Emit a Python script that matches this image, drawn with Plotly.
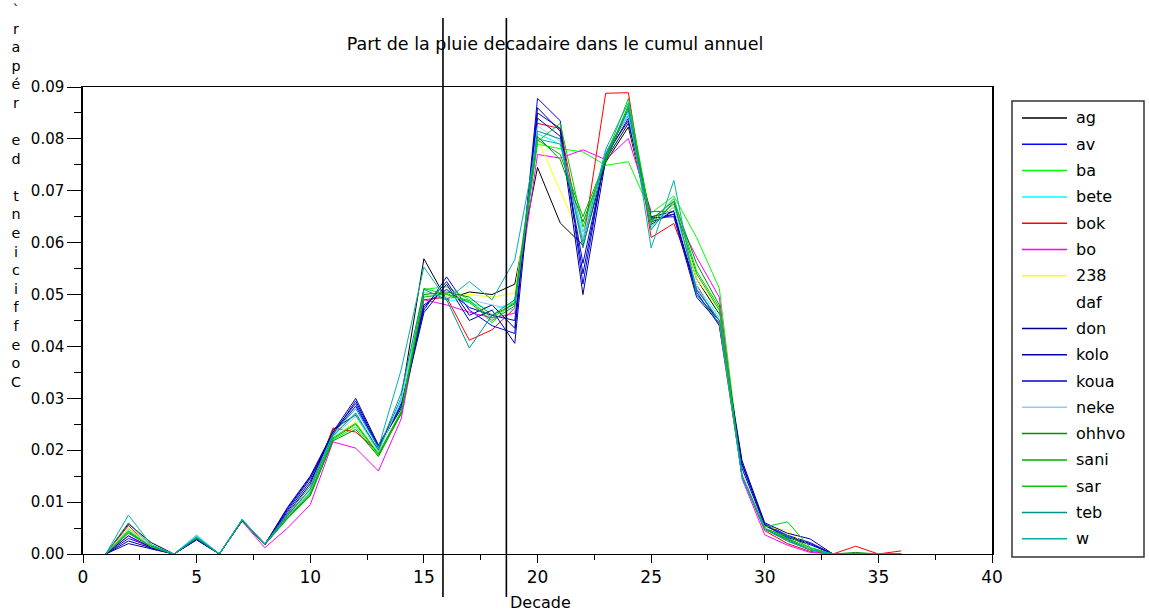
import plotly.graph_objects as go

# ---------------- data ----------------
decades = list(range(1, 37))

station_names = ["ag", "av", "ba", "bete", "bok", "bo", "238", "daf", "don",
                 "kolo", "koua", "neke", "ohhvo", "sani", "sar", "teb", "w"]

station_colors = ["#000000", "#0000ff", "#00ff00", "#00ffff", "#ff0000", "#ff00ff",
                  "#ffff00", "#ffffff", "#000090", "#0000b0", "#0000d0", "#87ceff",
                  "#009000", "#00b000", "#00d000", "#009090", "#00b0b0"]

ag = [0, .0058, .0022, 0, .0030, 0, .0066, .0020, .0078, .0135, .0240, .0268, .0200, .0300, .0569, .0490, .0505, .0500,
      .0520, .0745, .0638, .0595, .0755, .0823, .0635, .0662, .0530, .0462, .0150, .0050, .0030, .0010, 0, 0, 0, 0]
av = [0, .0030, .0014, 0, .0028, 0, .0064, .0018, .0085, .0145, .0235, .0290, .0205, .0290, .0470, .0534, .0470, .0440,
      .0425, .0878, .0835, .0520, .0775, .0845, .0645, .0655, .0505, .0440, .0172, .0058, .0036, .0022, 0, 0, 0, 0]
ba = [0, .0045, .0014, 0, .0032, 0, .0065, .0018, .0070, .0115, .0220, .0245, .0190, .0275, .0510, .0515, .0490, .0445,
      .0490, .0790, .0781, .0775, .0749, .0756, .0657, .0690, .0610, .0512, .0150, .0050, .0030, .0010, 0, 0, 0, 0]
bete = [0, .0050, .0015, 0, .0036, 0, .0066, .0018, .0072, .0120, .0228, .0270, .0195, .0300, .0500, .0490, .0485, .0470,
        .0485, .0810, .0790, .0620, .0770, .0850, .0630, .0670, .0520, .0455, .0150, .0048, .0025, .0008, 0, 0, 0, 0]
bok = [0, .0055, .0012, 0, .0030, 0, .0064, .0018, .0075, .0125, .0243, .0235, .0197, .0270, .0490, .0495, .0412, .0432,
       .0474, .0830, .0820, .0600, .0888, .0889, .0610, .0637, .0520, .0440, .0150, .0045, .0020, .0005, 0, .0015, 0, .0006]
bo = [0, .0035, .0010, 0, .0028, 0, .0063, .0012, .0050, .0095, .0216, .0204, .0160, .0260, .0490, .0480, .0466, .0455,
      .0464, .0770, .0763, .0779, .0760, .0801, .0660, .0660, .0572, .0495, .0145, .0037, .0017, .0003, 0, 0, 0, 0]
s238 = [0, .0050, .0015, 0, .0030, 0, .0065, .0018, .0072, .0125, .0225, .0255, .0195, .0280, .0505, .0495, .0500, .0495,
        .0503, .0800, .0700, .0600, .0770, .0830, .0640, .0670, .0530, .0470, .0155, .0052, .0046, .0010, 0, 0, 0, 0]
daf = [0, .0042, .0015, 0, .0030, 0, .0065, .0018, .0072, .0122, .0225, .0258, .0195, .0282, .0500, .0495, .0480, .0470,
       .0480, .0820, .0790, .0600, .0770, .0840, .0640, .0665, .0520, .0460, .0150, .0050, .0025, .0008, 0, 0, 0, 0]
don = [0, .0025, .0012, 0, .0029, 0, .0065, .0018, .0090, .0150, .0235, .0300, .0210, .0285, .0475, .0525, .0460, .0480,
       .0435, .0860, .0815, .0500, .0760, .0830, .0650, .0660, .0500, .0450, .0180, .0060, .0040, .0029, 0, 0, 0, 0]
kolo = [0, .0020, .0010, 0, .0027, 0, .0064, .0018, .0088, .0148, .0230, .0295, .0208, .0280, .0465, .0520, .0450, .0470,
        .0406, .0850, .0820, .0540, .0770, .0835, .0648, .0650, .0495, .0445, .0175, .0056, .0034, .0020, 0, 0, 0, 0]
koua = [0, .0035, .0013, 0, .0029, 0, .0065, .0018, .0082, .0140, .0232, .0285, .0205, .0285, .0480, .0510, .0475, .0460,
        .0450, .0840, .0805, .0560, .0765, .0840, .0640, .0655, .0510, .0450, .0165, .0055, .0032, .0018, 0, 0, 0, 0]
neke = [0, .0048, .0015, 0, .0037, 0, .0066, .0019, .0073, .0122, .0226, .0265, .0198, .0295, .0505, .0495, .0490, .0480,
        .0470, .0825, .0795, .0610, .0775, .0845, .0632, .0668, .0515, .0450, .0155, .0050, .0027, .0010, 0, 0, 0, 0]
ohhvo = [0, .0040, .0014, 0, .0031, 0, .0065, .0018, .0068, .0112, .0218, .0240, .0188, .0270, .0500, .0505, .0495, .0460,
         .0482, .0805, .0760, .0640, .0755, .0860, .0645, .0680, .0560, .0480, .0150, .0048, .0028, .0008, 0, .0003, 0, 0]
sani = [0, .0042, .0014, 0, .0031, 0, .0065, .0018, .0070, .0115, .0222, .0250, .0192, .0272, .0495, .0502, .0485, .0450,
        .0478, .0798, .0770, .0650, .0760, .0865, .0638, .0675, .0540, .0470, .0150, .0048, .0035, .0012, 0, 0, 0, 0]
sar = [0, .0044, .0014, 0, .0032, 0, .0065, .0018, .0071, .0118, .0224, .0252, .0194, .0275, .0512, .0500, .0488, .0455,
       .0485, .0795, .0830, .0630, .0765, .0878, .0640, .0685, .0545, .0475, .0150, .0052, .0062, .0012, 0, 0, 0, 0]
teb = [0, .0060, .0016, 0, .0030, 0, .0066, .0018, .0074, .0125, .0228, .0272, .0200, .0310, .0510, .0490, .0397, .0460,
       .0490, .0815, .0800, .0590, .0770, .0855, .0625, .0680, .0510, .0450, .0150, .0048, .0025, .0008, 0, 0, 0, 0]
w = [0, .0075, .0018, 0, .0034, 0, .0067, .0019, .0078, .0130, .0232, .0280, .0205, .0355, .0553, .0490, .0525, .0490,
     .0567, .0800, .0790, .0600, .0780, .0870, .0590, .0720, .0500, .0445, .0150, .0048, .0025, .0008, 0, 0, 0, 0]

series_values = [ag, av, ba, bete, bok, bo, s238, daf, don, kolo, koua, neke, ohhvo, sani, sar, teb, w]

period_bounds = [15.84, 18.63]          # the two vertical markers (decades)
x_tick_values = [0, 5, 10, 15, 20, 25, 30, 35, 40]
y_tick_values = [0.00, 0.01, 0.02, 0.03, 0.04, 0.05, 0.06, 0.07, 0.08, 0.09]

title_text = "Part de la pluie decadaire dans le cumul annuel"
x_title = "Decade"
y_title = "Coefficient de répar`"

# ---------------- layout geometry (pixels) ----------------
W, H = 1149, 612
L, R, T, B = 83, 992, 87, 554
FONT = "DejaVu Sans"


def fx(px):
    return (px - L) / (R - L)


def fy(py):
    return (B - py) / (B - T)


fig = go.Figure()
for name, color, vals in zip(station_names, station_colors, series_values):
    fig.add_trace(go.Scatter(x=decades, y=vals, mode="lines", name=name,
                             line=dict(color=color, width=1), showlegend=False))

shapes = []
annotations = []

# vertical markers extending beyond the plot frame
for xv in period_bounds:
    shapes.append(dict(type="line", xref="x", yref="paper", x0=xv, x1=xv,
                       y0=fy(597), y1=fy(18), line=dict(color="black", width=1.6)))

# hand-placed legend box replicating the original
shapes.append(dict(type="rect", xref="paper", yref="paper", x0=fx(1012), x1=fx(1144),
                   y0=fy(557), y1=fy(101), line=dict(color="#333333", width=1.5),
                   fillcolor="rgba(0,0,0,0)"))
for i, (name, color) in enumerate(zip(station_names, station_colors)):
    yy = 118 + i * 26.3
    shapes.append(dict(type="line", xref="paper", yref="paper", x0=fx(1022), x1=fx(1067),
                       y0=fy(yy), y1=fy(yy), line=dict(color=color, width=1.5)))
    annotations.append(dict(text=name, xref="paper", yref="paper", x=fx(1074), y=fy(yy),
                            xanchor="left", yanchor="middle", showarrow=False,
                            font=dict(family=FONT, size=16, color="black")))

# y-axis title: stacked characters, read bottom to top
chars = list(y_title)[::-1]
ylines = "<br>".join(c if c != " " else "\u00a0" for c in chars)
annotations.append(dict(text=ylines, xref="paper", yref="paper", x=fx(16), y=fy(0),
                        xanchor="center", yanchor="top", align="center", showarrow=False,
                        font=dict(family=FONT, size=14.3, color="black")))

# x-axis title
annotations.append(dict(text=x_title, xref="paper", yref="paper", x=fx(540), y=fy(602),
                        xanchor="center", yanchor="middle", showarrow=False,
                        font=dict(family=FONT, size=16, color="black")))

fig.update_layout(
    width=W, height=H,
    margin=dict(l=L, r=W - R, t=T, b=H - B, pad=0),
    paper_bgcolor="white", plot_bgcolor="white",
    title=dict(text=title_text, x=555 / W, xanchor="center", y=1 - 44 / H, yanchor="middle",
               xref="container", yref="container",
               font=dict(family=FONT, size=17.5, color="black")),
    font=dict(family=FONT, size=15, color="black"),
    shapes=shapes, annotations=annotations,
    showlegend=False,
)

fig.update_xaxes(range=[0, 40], tickvals=x_tick_values, ticks="outside", ticklen=8,
                 tickcolor="black", tickwidth=1, showgrid=False, zeroline=False,
                 showline=True, linecolor="black", linewidth=1, mirror=True,
                 tickfont=dict(family=FONT, size=17, color="black"),
                 minor=dict(dtick=2.5, tick0=0, ticks="outside", ticklen=5, tickcolor="black",
                            showgrid=False))
fig.update_yaxes(range=[0, 0.09], tickvals=y_tick_values, tickformat=".2f", ticks="outside",
                 ticklen=14, tickcolor="black", tickwidth=1, showgrid=False, zeroline=False,
                 showline=True, linecolor="black", linewidth=1.5, mirror=True,
                 tickfont=dict(family=FONT, size=15, color="black"),
                 minor=dict(dtick=0.005, tick0=0, ticks="outside", ticklen=7, tickcolor="black",
                            showgrid=False))

fig.write_html("out.html")
